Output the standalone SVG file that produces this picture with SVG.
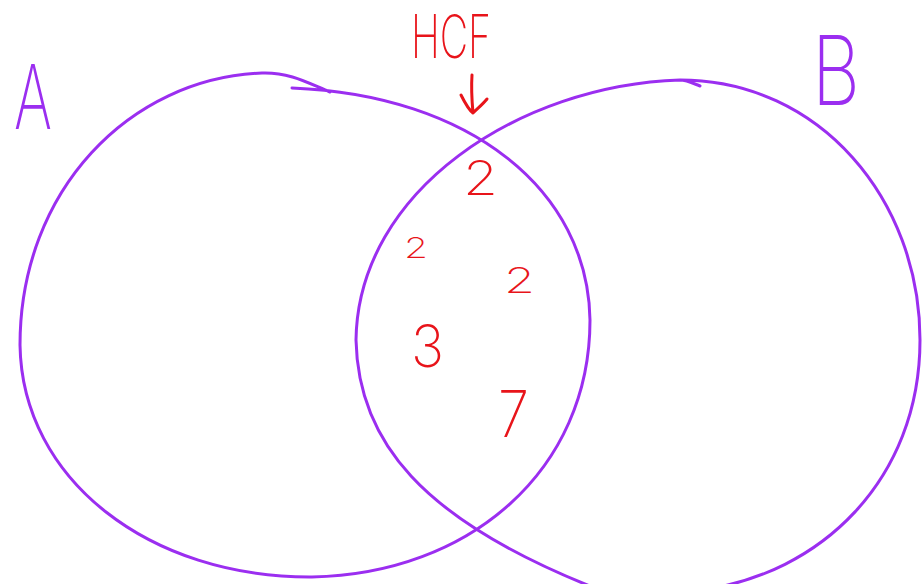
<svg xmlns="http://www.w3.org/2000/svg" width="922" height="584" viewBox="0 0 922 584">
<style>
.ring{fill:none;stroke:#9b2ef0;stroke-width:3;stroke-linecap:round;stroke-linejoin:round}
.lbl{font-family:Inter,"Liberation Sans",sans-serif;font-weight:200;fill:#9b2ef0}
.red{font-family:Inter,"Liberation Sans",sans-serif;font-weight:200;fill:#e8141a}
.arr{fill:none;stroke:#e8141a;stroke-width:3;stroke-linecap:round;stroke-linejoin:round}
</style>
<rect width="922" height="584" fill="#ffffff"/>
<g id="setA">
<path class="ring" d="M330,92 C310,84 290,72 262,73 C130,78 20,190 20,345 C22,480 150,578 312,577 C470,574 590,470 590,320 C588,190 470,95 292,88"/>
<text class="lbl" x="14" y="129" font-size="90" textLength="38" lengthAdjust="spacingAndGlyphs">A</text>
</g>
<g id="setB">
<path class="ring" d="M700,86 C690,82 686,80 680,80 C520,85 358,190 356,340 C358,440 420,520 600,590 M680,80 C820,80 920,200 920,340 C920,480 820,575 700,590"/>
<text class="lbl" x="812" y="105" font-size="96" textLength="48" lengthAdjust="spacingAndGlyphs">B</text>
</g>
<g id="hcf">
<text class="red" x="411" y="58" font-size="60" textLength="80" lengthAdjust="spacingAndGlyphs">HCF</text>
</g>
<g id="connectors">
<path class="arr" d="M472,75 C471,90 472,102 473,113 M461,95 C465,103 469,110 473,113 C478,108 483,104 487,99"/>
</g>
<g id="factors">
<text class="red" x="463" y="195" font-size="48" textLength="35" lengthAdjust="spacingAndGlyphs">2</text>
<text class="red" x="404" y="258" font-size="28" textLength="24" lengthAdjust="spacingAndGlyphs">2</text>
<text class="red" x="504" y="293" font-size="35" textLength="31" lengthAdjust="spacingAndGlyphs">2</text>
<text class="red" x="411" y="367" font-size="58" textLength="33" lengthAdjust="spacingAndGlyphs">3</text>
<text class="red" x="498" y="437" font-size="64" textLength="31" lengthAdjust="spacingAndGlyphs">7</text>
</g>
</svg>
